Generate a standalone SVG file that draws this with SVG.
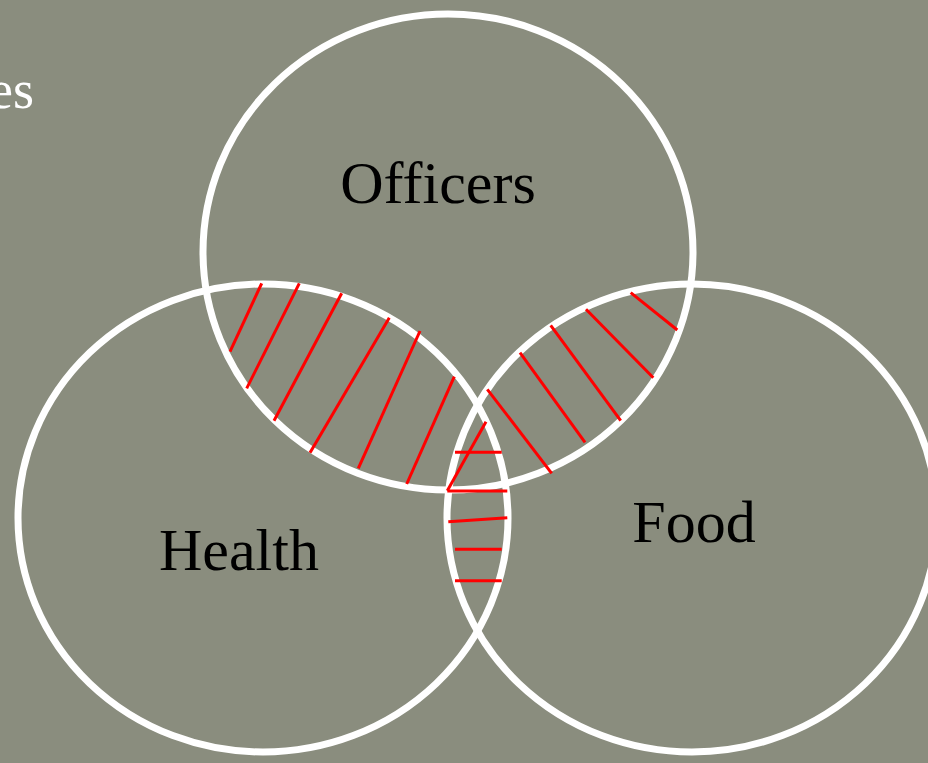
<svg xmlns="http://www.w3.org/2000/svg" width="928" height="763" viewBox="0 0 928 763">
<style>
.ring{fill:none;stroke:#ffffff;stroke-width:7}
.lbl{font-family:"Liberation Serif","Times New Roman",serif;font-size:60px;fill:#000000;text-anchor:middle}
.hatch line{stroke:#ff0000;stroke-width:3;stroke-linecap:butt}
</style>
<rect x="0" y="0" width="928" height="763" fill="#8a8d7e"/>
<text x="34" y="108" font-family="Liberation Serif, Times New Roman, serif" font-size="54" fill="#ffffff" text-anchor="end">es</text>
<g id="officers">
<ellipse class="ring" cx="448" cy="252" rx="245" ry="238"/>
<text class="lbl" x="438" y="203">Officers</text>
</g>
<g id="health">
<ellipse class="ring" cx="263" cy="518" rx="245" ry="234"/>
<text class="lbl" x="239" y="570">Health</text>
</g>
<g id="food">
<ellipse class="ring" cx="692" cy="518" rx="245" ry="234"/>
<text class="lbl" x="694" y="542">Food</text>
</g>
<g id="connectors" class="hatch">
<line x1="261.7" y1="283.3" x2="230" y2="351.7"/>
<line x1="299.3" y1="283.3" x2="246.7" y2="388.3"/>
<line x1="341.7" y1="293.3" x2="274" y2="420.7"/>
<line x1="389.3" y1="317.7" x2="310" y2="452.7"/>
<line x1="420" y1="331" x2="358.3" y2="468.3"/>
<line x1="454.3" y1="376.7" x2="406.7" y2="484"/>
<line x1="487.3" y1="389.3" x2="551.7" y2="473.3"/>
<line x1="520" y1="352.7" x2="585" y2="442.3"/>
<line x1="550.7" y1="325.3" x2="620.7" y2="420.7"/>
<line x1="586" y1="309.3" x2="653.3" y2="377.7"/>
<line x1="630.7" y1="292.7" x2="677.3" y2="330"/>
<line x1="486" y1="421.7" x2="447.3" y2="490.7"/>
<line x1="455" y1="452.3" x2="501.7" y2="452.3"/>
<line x1="447.3" y1="491" x2="507.3" y2="491"/>
<line x1="448.3" y1="521.7" x2="507.3" y2="517.7"/>
<line x1="455" y1="549.3" x2="501.7" y2="549.3"/>
<line x1="455" y1="580.7" x2="501.7" y2="580.7"/>
</g>
</svg>
